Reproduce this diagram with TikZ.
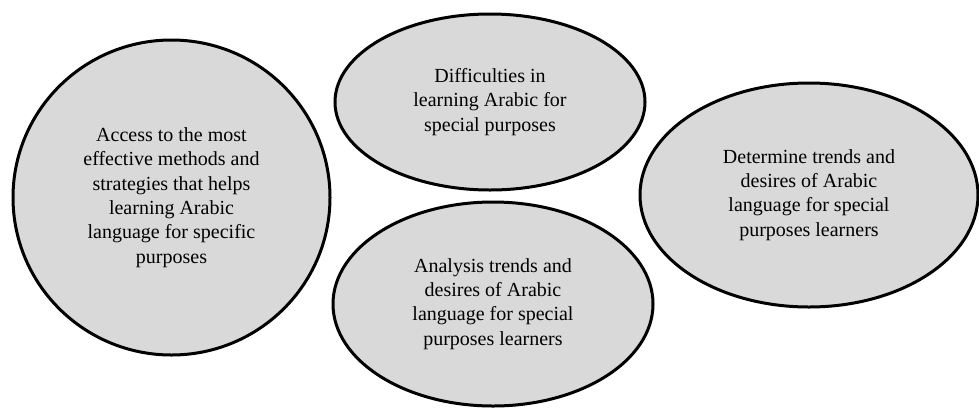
\documentclass[tikz,border=0pt]{standalone}
\usepackage{fontspec}
\setmainfont{Liberation Serif}
\usetikzlibrary{shapes.geometric}

\begin{document}
\begin{tikzpicture}[x=1pt, y=-1pt,
    bubble/.style={ellipse, draw, line width=3pt, fill=black!15, inner sep=0pt,
        align=center, font=\fontsize{20}{24.3}\selectfont}]
    \useasboundingbox (0,0) rectangle (979,408);
    % Nodes
    \node[bubble, minimum width=317pt, minimum height=315pt] (access) at (171.5,197.5)
        {Access to the most\\effective methods and\\strategies that helps\\learning Arabic\\language for specific\\purposes};
    \node[bubble, minimum width=310pt, minimum height=176pt] (difficult) at (490,102)
        {Difficulties in\\learning Arabic for\\special purposes};
    \node[bubble, minimum width=320pt, minimum height=204pt] (analysis) at (493,304)
        {Analysis trends and\\desires of Arabic\\language for special\\purposes learners};
    \node[bubble, minimum width=338pt, minimum height=224pt] (determine) at (809,195)
        {Determine trends and\\desires of Arabic\\language for special\\purposes learners};
\end{tikzpicture}
\end{document}
